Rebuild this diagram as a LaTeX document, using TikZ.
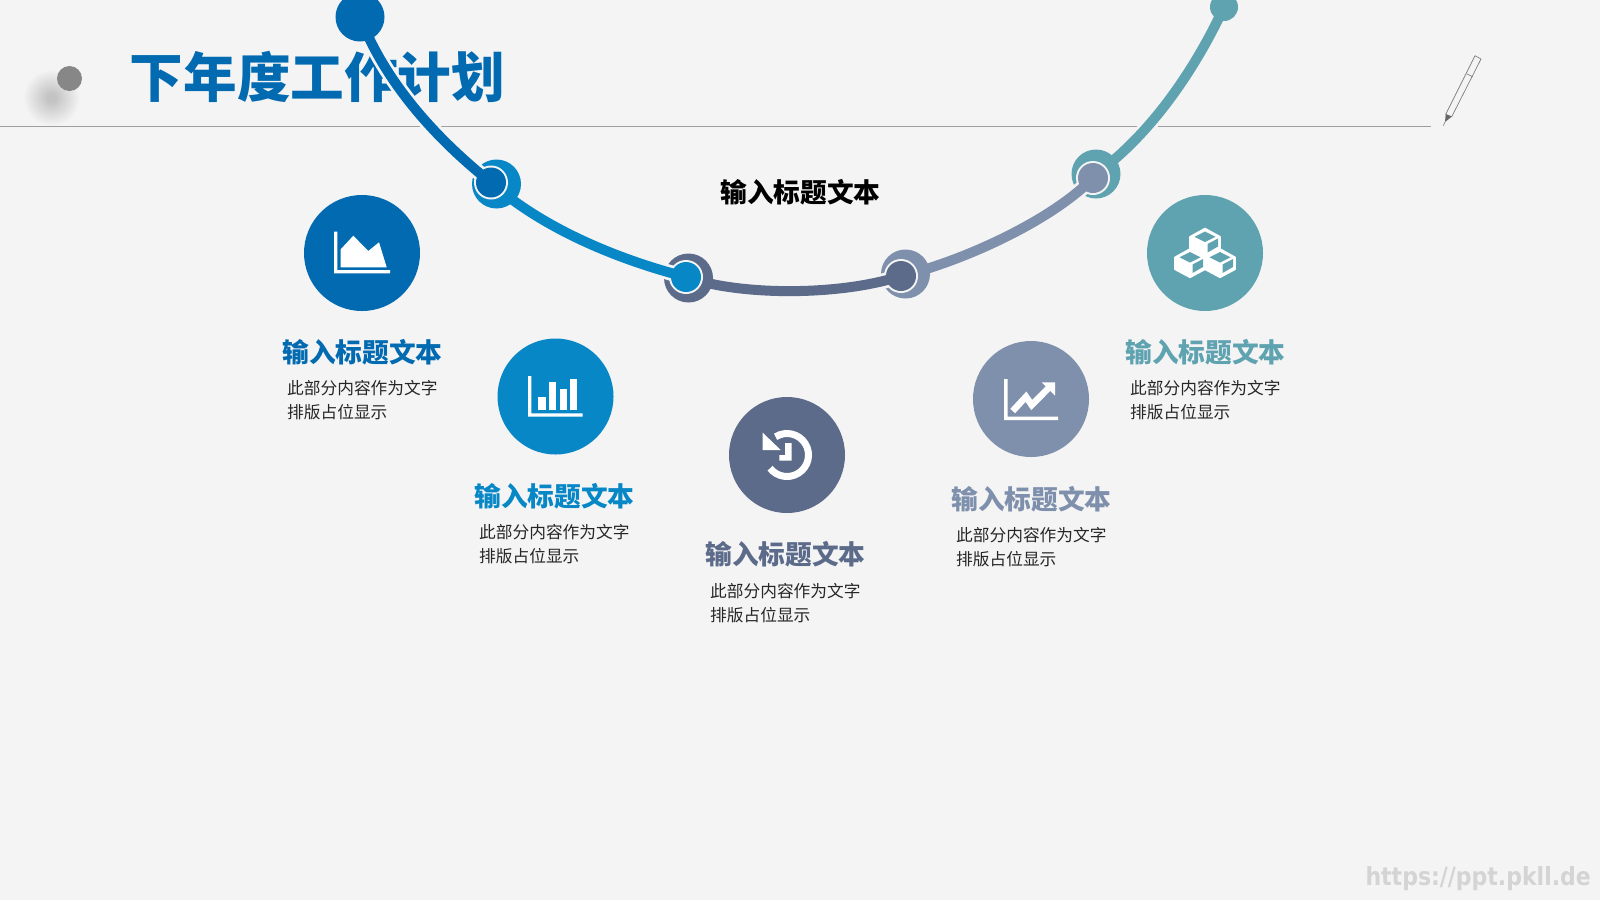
\documentclass[tikz,border=0pt]{standalone}
\usepackage{fontspec}
\setmainfont{Noto Sans CJK SC}
\newfontfamily\markfont{DejaVu Sans}
\usetikzlibrary{calc}
\definecolor{paper}{HTML}{F4F4F5}
\definecolor{cA}{HTML}{026AB1}
\definecolor{cB}{HTML}{0787C6}
\definecolor{cC}{HTML}{5C6B8A}
\definecolor{cD}{HTML}{7F90AD}
\definecolor{cE}{HTML}{5FA3B1}
\tikzset{
  seg/.style={line width=10pt, preaction={draw=paper, line width=15.5pt}},
  ringdisc/.style={circle, inner sep=0pt, minimum size=49pt},
  hubdisc/.style={circle, inner sep=0pt, minimum size=30pt},
  badge/.style={circle, inner sep=0pt, minimum size=116pt},
  heading/.style={inner sep=0pt, font=\fontsize{26.7}{30}\selectfont\bfseries},
  blurb/.style={anchor=west, align=left, inner sep=0pt, text=black!85, font=\fontsize{16.7}{24.5}\selectfont},
  glyph/.style={fill=white, draw=none}
}
% one isometric block of the stack, placed by its top vertex
\newcommand{\blockat}[3]{%
  \fill[white, draw=white, line width=1.6pt, line join=round]
    (#1,#2) -- ++(15,8.3) -- ++(0,12) -- ++(-15,8) -- ++(-15,-8) -- ++(0,-12) -- cycle;
  \fill[#3] (#1,#2+3) -- ++(10.5,5.3) -- ++(-10.5,5.3) -- ++(-10.5,-5.3) -- cycle;
  \fill[#3] (#1+2.5,#2+15.5) -- ++(10.5,-5.5) -- ++(0,8) -- ++(-10.5,6) -- cycle;
}
\begin{document}
\begin{tikzpicture}[x=1pt,y=-1pt]
\useasboundingbox (0,0) rectangle (1600,900);
\fill[paper] (0,0) rectangle (1600,900);

% header: soft shadow built from stacked translucent discs
\foreach \r in {5,6,...,28} {
  \fill[black, fill opacity=0.0095] (52,98) circle (\r);
}
\node[circle, inner sep=0pt, minimum size=25pt, fill=black!47] (dot) at (69.5,78.5) {};
\node[inner sep=0pt, text=cA, font=\fontsize{53.6}{56}\selectfont\bfseries] (title) at (317.5,76.5) {下年度工作计划};
\coordinate (ruleL) at (0,126.5);
\coordinate (ruleR) at (1431,126.5);
\draw[black!38, line width=1pt] (ruleL) -- (ruleR);

% pencil
\draw[black!50, line width=0.7pt, line join=round]
  (1475,55.7) -- (1481,59) -- (1451.7,116.7) -- (1445.7,114.3) -- cycle
  (1467,74) -- (1472.7,76.7);
\fill[black!60] (1445.7,114.3) -- (1451.7,116.7) -- (1445,122) -- cycle;
\draw[black!50, line width=0.6pt] (1445,122) -- (1443.3,125.7);

% junctions along the arc
\coordinate (j0) at (360,17);
\coordinate (j1) at (491,182.5);
\coordinate (j2) at (686,277);
\coordinate (j3) at (901,276);
\coordinate (j4) at (1093,178);
\coordinate (j5) at (1224,7);
\coordinate (k1) at (496.5,184);
\coordinate (k2) at (688.5,278);
\coordinate (k3) at (905.5,274);
\coordinate (k4) at (1096,174);

\fill[paper] (k4) circle (27.5);
\draw[seg, draw=cE] (j5) .. controls (1195,70) and (1150,135) .. (k4);
\node[circle, inner sep=0pt, minimum size=28pt, fill=cE] (end) at (j5) {};
\node[ringdisc, fill=cE] (ring4) at (k4) {};
\fill[paper] (j4) circle (17);
\fill[paper] (k3) circle (27.5);
\draw[seg, draw=cD] (j3) .. controls (960,262) and (1050,222) .. (j4);
\node[hubdisc, fill=cD] (hub4) at (j4) {};
\node[ringdisc, fill=cD] (ring3) at (k3) {};
\fill[paper] (j3) circle (17);
\fill[paper] (k2) circle (27.5);
\draw[seg, draw=cC] (j2) .. controls (740,296) and (840,296) .. (j3);
\node[hubdisc, fill=cC] (hub3) at (j3) {};
\node[ringdisc, fill=cC] (ring2) at (k2) {};
\fill[paper] (j2) circle (17);
\fill[paper] (k1) circle (27.5);
\draw[seg, draw=cB] (j1) .. controls (540,226) and (612,258) .. (j2);
\node[hubdisc, fill=cB] (hub2) at (j2) {};
\node[ringdisc, fill=cB] (ring1) at (k1) {};
\fill[paper] (j1) circle (17);
\draw[seg, draw=cA] (j0) .. controls (383,77) and (429,133) .. (j1);
\node[hubdisc, fill=cA] (hub1) at (j1) {};
\node[circle, inner sep=0pt, minimum size=49pt, fill=cA] (start) at (j0) {};

\node[heading, text=black] (caption) at (800.5,192) {输入标题文本};

% badges
\node[badge, fill=cA] (b1) at (362,253) {};
\node[badge, fill=cB] (b2) at (555.5,396.5) {};
\node[badge, fill=cC] (b3) at (787,455) {};
\node[badge, fill=cD] (b4) at (1031,399) {};
\node[badge, fill=cE] (b5) at (1205,253) {};

% area chart
\fill[glyph] (334,231.7) -- (337.3,231.7) -- (337.3,270) -- (390,270) -- (390,273.3) -- (334,273.3) -- cycle;
\fill[glyph] (340.7,267.3) -- (340.7,249.3) -- (353.3,235.7) -- (368.3,251) -- (379,242.3) -- (386.7,267.3) -- cycle;

% bar chart
\fill[glyph] (528,376) -- (531.3,376) -- (531.3,413.3) -- (582.7,413.3) -- (582.7,416.7) -- (528,416.7) -- cycle;
\fill[glyph] (538.3,396.7) rectangle (545.7,410);
\fill[glyph] (549,382.3) rectangle (556,410);
\fill[glyph] (560,389.3) rectangle (566.7,410);
\fill[glyph] (570,379.3) rectangle (576.7,410);

% history clock
\draw[white, line width=7pt] (787,455) ++(122:21.5 and -21.5) arc[start angle=-122, end angle=142, radius=21.5];
\fill[glyph] (762.7,432.7) -- (762.7,450) -- (780.7,450) -- cycle;
\fill[glyph] (785,443) -- (791.7,443) -- (791.7,460.7) -- (779.3,460.7) -- (779.3,455) -- (785,455) -- cycle;

% trend chart
\fill[glyph] (1004,379) -- (1007.7,379) -- (1007.7,416.7) -- (1058,416.7) -- (1058,420) -- (1004,420) -- cycle;
\draw[white, line width=6.5pt] (1012.7,411) -- (1026,396.7) -- (1031.7,405) -- (1048.3,388.3);
\fill[glyph] (1041.7,382.3) -- (1055,382.3) -- (1055,395.7) -- cycle;

% stacked blocks
\blockat{1205}{228.5}{cE}
\blockat{1190}{249}{cE}
\blockat{1220}{249}{cE}

% captions under the badges
\node[heading, text=cA] (h1) at (362.5,352) {输入标题文本};
\node[heading, text=cB] (h2) at (554.5,496) {输入标题文本};
\node[heading, text=cC] (h3) at (785.5,554) {输入标题文本};
\node[heading, text=cD] (h4) at (1031.5,499) {输入标题文本};
\node[heading, text=cE] (h5) at (1205.5,352) {输入标题文本};

\node[blurb] (t1) at (287,400) {此部分内容作为文字\\排版占位显示};
\node[blurb] (t2) at (479,544) {此部分内容作为文字\\排版占位显示};
\node[blurb] (t3) at (710,603) {此部分内容作为文字\\排版占位显示};
\node[blurb] (t4) at (956,547) {此部分内容作为文字\\排版占位显示};
\node[blurb] (t5) at (1130,400) {此部分内容作为文字\\排版占位显示};

\node[anchor=east, inner sep=0pt, text=black!17, font=\markfont\fontsize{25}{28}\selectfont\bfseries] (web) at (1591,879) {\scalebox{0.88}[1]{https://ppt.pkll.de}};
\end{tikzpicture}
\end{document}
